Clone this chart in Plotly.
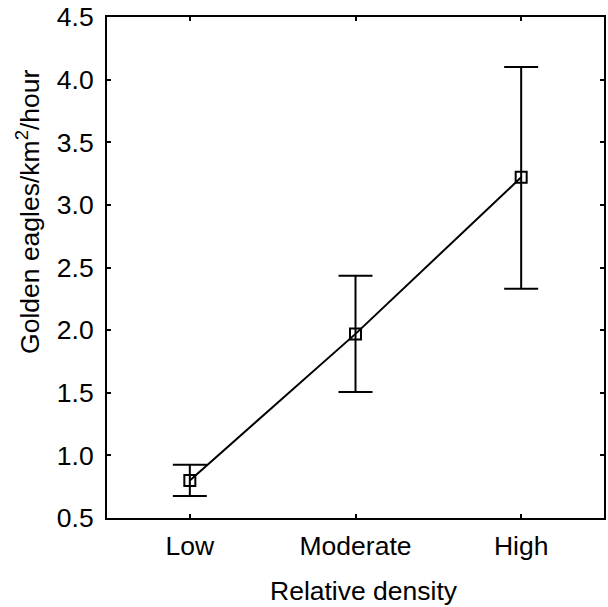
import plotly.graph_objects as go

categories = ["Low", "Moderate", "High"]
means = [0.80, 1.97, 3.22]
err_plus = [0.125, 0.465, 0.88]
err_minus = [0.125, 0.465, 0.89]
y_ticks = [0.5, 1.0, 1.5, 2.0, 2.5, 3.0, 3.5, 4.0, 4.5]

FONT = "Liberation Sans, Arial, sans-serif"
FS = 26.5

fig = go.Figure()
fig.add_trace(go.Scatter(
    x=categories, y=means,
    mode="lines+markers",
    line=dict(color="black", width=2),
    marker=dict(symbol="square-open", size=11, color="black", line=dict(width=2, color="black")),
    error_y=dict(type="data", symmetric=False, array=err_plus, arrayminus=err_minus,
                 color="black", thickness=2, width=17),
    showlegend=False,
))

fig.update_layout(
    width=608, height=607,
    margin=dict(l=107, r=2, t=16, b=89),
    plot_bgcolor="white", paper_bgcolor="white",
    font=dict(family=FONT, size=FS, color="black"),
    xaxis=dict(
        type="category", range=[-0.5, 2.5],
        showline=True, linecolor="black", linewidth=2, mirror="ticks",
        ticks="inside", ticklen=4, tickwidth=2, tickcolor="black",
        showgrid=False, zeroline=False,
        tickfont=dict(family=FONT, size=FS, color="black"),
        ticklabelstandoff=3,
    ),
    yaxis=dict(
        range=[0.5, 4.5], tickvals=y_ticks, ticktext=[f"{v:.1f}" for v in y_ticks],
        showline=True, linecolor="black", linewidth=2, mirror="ticks",
        ticks="inside", ticklen=4, tickwidth=2, tickcolor="black",
        showgrid=False, zeroline=False,
        tickfont=dict(family=FONT, size=FS, color="black"),
        ticklabelstandoff=6,
    ),
    annotations=[
        dict(text="Relative density", xref="paper", yref="paper",
             x=(365 - 107) / 499, y=-(591 - 518) / 502,
             xanchor="center", yanchor="middle", showarrow=False,
             font=dict(family=FONT, size=FS, color="black")),
        dict(text="Golden eagles/km<sup>2</sup>/hour", xref="paper", yref="paper",
             x=-(107 - 27) / 499, y=(518 - 211) / 502, textangle=-90,
             xanchor="center", yanchor="middle", showarrow=False,
             font=dict(family=FONT, size=FS, color="black")),
    ],
)

fig.write_html("out.html")
